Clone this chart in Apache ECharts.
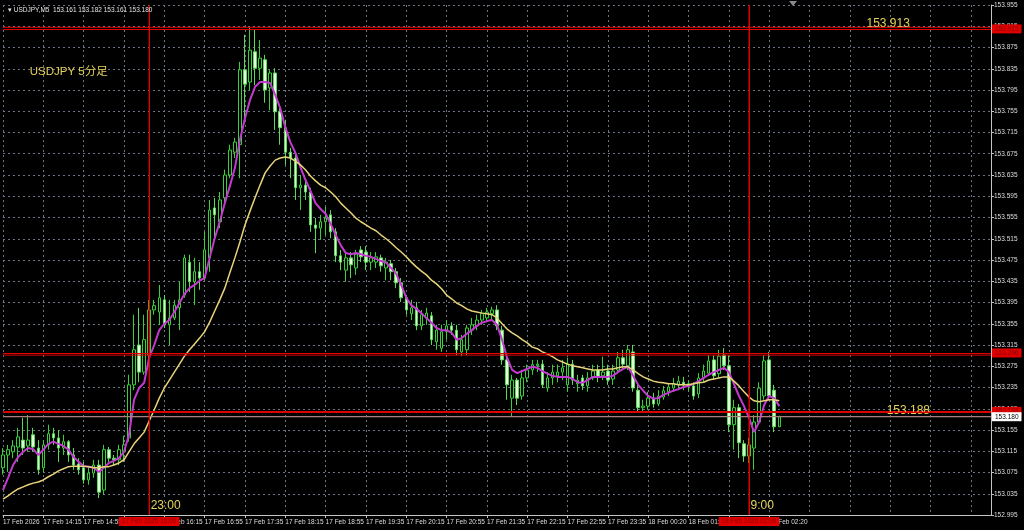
<!DOCTYPE html>
<html>
<head>
<meta charset="utf-8">
<script src="https://cdn.jsdelivr.net/npm/echarts@6/dist/echarts.min.js"></script>
<style>
html,body{margin:0;padding:0;background:#000;}
#c{width:1024px;height:530px;}
</style>
</head>
<body>
<div id="c"></div>
<script>
// ---- data (USDJPY M5) ----
const symbolName = 'USDJPY,M5';
const slotCount = 197; // bar slots on the time axis (155 bars + chart shift)
const tickLabels = ['17 Feb 2026','17 Feb 14:15','17 Feb 14:55','17 Feb 15:35','17 Feb 16:15','17 Feb 16:55','17 Feb 17:35','17 Feb 18:15','17 Feb 18:55','17 Feb 19:35','17 Feb 20:15','17 Feb 20:55','17 Feb 21:35','17 Feb 22:15','17 Feb 22:55','17 Feb 23:35','18 Feb 00:20','18 Feb 01:00','18 Feb 01:40','18 Feb 02:20'];
const tickEvery = 8;

const opens = [
153.084,153.108,153.114,153.123,153.136,153.125,153.146,153.121,153.084,153.127,
153.148,153.140,153.121,153.133,153.108,153.091,153.084,153.061,153.074,153.089,
153.042,153.118,153.102,153.099,153.114,153.140,153.240,153.315,153.264,153.296,
153.381,153.377,153.400,153.353,153.366,153.385,153.409,153.471,153.434,153.453,
153.441,153.479,153.573,153.547,153.592,153.635,153.678,153.692,153.833,153.810,
153.867,153.836,153.852,153.799,153.827,153.754,153.724,153.678,153.667,153.611,
153.616,153.603,153.541,153.535,153.547,153.560,153.528,153.483,153.456,153.479,
153.460,153.494,153.490,153.471,153.471,153.479,153.460,153.468,153.453,153.432,
153.404,153.374,153.385,153.351,153.366,153.370,153.321,153.309,153.340,153.351,
153.343,153.302,153.306,153.343,153.351,153.362,153.366,153.374,153.381,153.343,
153.287,153.215,153.249,153.219,153.253,153.268,153.276,153.279,153.234,153.253,
153.257,153.264,153.240,153.279,153.242,153.253,153.238,153.253,153.268,153.257,
153.266,153.251,153.268,153.291,153.276,153.302,153.230,153.197,153.200,153.215,
153.204,153.217,153.227,153.234,153.240,153.245,153.238,153.238,153.223,153.253,
153.262,153.287,153.261,153.296,153.276,153.165,153.197,153.129,153.106,153.121,
153.170,153.219,153.287,153.230,153.161];
const highs = [
153.121,153.127,153.136,153.159,153.178,153.183,153.159,153.136,153.136,153.165,
153.159,153.155,153.146,153.136,153.121,153.102,153.095,153.084,153.099,153.099,
153.127,153.123,153.108,153.127,153.144,153.259,153.372,153.385,153.372,153.400,
153.400,153.428,153.409,153.400,153.400,153.434,153.485,153.485,153.479,153.471,
153.528,153.588,153.592,153.603,153.645,153.692,153.705,153.848,153.899,153.913,
153.908,153.889,153.861,153.833,153.836,153.761,153.739,153.686,153.673,153.635,
153.626,153.611,153.554,153.560,153.575,153.569,153.535,153.494,153.490,153.490,
153.494,153.501,153.501,153.490,153.490,153.485,153.479,153.475,153.460,153.441,
153.409,153.400,153.396,153.381,153.385,153.377,153.353,153.353,153.362,153.358,
153.353,153.334,153.353,153.366,153.372,153.381,153.385,153.387,153.390,153.351,
153.291,153.259,153.253,153.268,153.278,153.287,153.287,153.287,153.264,153.278,
153.278,153.287,153.291,153.287,153.259,153.259,153.264,153.278,153.278,153.293,
153.278,153.278,153.302,153.306,153.315,153.315,153.240,153.212,153.227,153.225,
153.230,153.238,153.244,153.253,153.257,153.255,153.249,153.245,153.262,153.278,
153.296,153.296,153.306,153.309,153.296,153.212,153.204,153.136,153.140,153.183,
153.245,153.296,153.302,153.240,153.182];
const lows = [
153.071,153.076,153.102,153.095,153.108,153.114,153.114,153.071,153.076,153.118,
153.127,153.095,153.108,153.095,153.080,153.071,153.054,153.052,153.065,153.027,
153.033,153.095,153.089,153.089,153.095,153.133,153.230,153.245,153.259,153.287,
153.372,153.353,153.347,153.315,153.362,153.343,153.404,153.415,153.390,153.419,
153.437,153.453,153.513,153.535,153.579,153.629,153.667,153.629,153.742,153.795,
153.804,153.814,153.771,153.757,153.720,153.692,153.654,153.629,153.588,153.569,
153.588,153.528,153.488,153.513,153.522,153.516,153.471,153.456,153.434,153.441,
153.447,153.471,153.456,153.456,153.460,153.453,153.437,153.437,153.422,153.396,
153.372,153.362,153.343,153.343,153.353,153.315,153.306,153.302,153.325,153.334,
153.296,153.294,153.296,153.334,153.343,153.353,153.358,153.362,153.343,153.278,
153.212,153.180,153.202,153.212,153.245,153.259,153.264,153.234,153.227,153.240,
153.245,153.249,153.227,153.240,153.227,153.230,153.227,153.249,153.245,153.249,
153.240,153.240,153.264,153.272,153.268,153.227,153.189,153.189,153.193,153.197,
153.200,153.212,153.219,153.227,153.230,153.230,153.227,153.212,153.215,153.245,
153.257,153.249,153.253,153.268,153.151,153.118,153.102,153.095,153.093,153.080,
153.165,153.212,153.212,153.151,153.161];
const closes = [
153.108,153.118,153.125,153.142,153.121,153.136,153.123,153.080,153.127,153.148,
153.140,153.121,153.133,153.108,153.089,153.080,153.061,153.074,153.089,153.038,
153.118,153.102,153.099,153.118,153.127,153.240,153.306,153.264,153.325,153.381,
153.389,153.404,153.353,153.366,153.390,153.400,153.479,153.434,153.453,153.441,
153.494,153.569,153.560,153.588,153.635,153.682,153.697,153.833,153.806,153.870,
153.836,153.855,153.795,153.827,153.754,153.724,153.678,153.667,153.611,153.616,
153.603,153.541,153.535,153.547,153.554,153.528,153.483,153.471,153.479,153.466,
153.486,153.481,153.471,153.479,153.481,153.464,153.471,153.453,153.432,153.404,
153.381,153.385,153.351,153.372,153.375,153.325,153.343,153.340,153.351,153.343,
153.306,153.325,153.347,153.353,153.362,153.375,153.377,153.381,153.351,153.287,
153.240,153.249,153.215,153.253,153.268,153.278,153.279,153.240,153.253,153.264,
153.264,153.272,153.279,153.249,153.249,153.238,153.253,153.266,153.255,153.264,
153.249,153.266,153.291,153.279,153.306,153.234,153.197,153.200,153.215,153.204,
153.219,153.229,153.236,153.242,153.247,153.240,153.242,153.219,153.253,153.266,
153.285,153.257,153.294,153.276,153.165,153.197,153.131,153.106,153.127,153.170,
153.234,153.285,153.219,153.161,153.180];
const maFast = [
153.042,153.065,153.089,153.104,153.114,153.121,153.119,153.108,153.118,153.129,
153.133,153.129,153.125,153.118,153.104,153.095,153.087,153.086,153.084,153.076,
153.084,153.093,153.097,153.102,153.114,153.146,153.212,153.234,153.244,153.291,
153.315,153.343,153.355,153.362,153.377,153.394,153.411,153.422,153.428,153.436,
153.441,153.479,153.516,153.547,153.582,153.614,153.648,153.701,153.742,153.776,
153.801,153.810,153.810,153.808,153.786,153.761,153.725,153.697,153.677,153.650,
153.626,153.605,153.582,153.571,153.562,153.543,153.522,153.503,153.488,153.486,
153.488,153.486,153.483,153.481,153.477,153.473,153.470,153.460,153.449,153.428,
153.404,153.390,153.383,153.375,153.366,153.357,153.347,153.343,153.343,153.338,
153.325,153.328,153.336,153.343,153.351,153.357,153.360,153.362,153.353,153.325,
153.291,153.268,153.262,153.266,153.270,153.274,153.272,153.266,153.261,153.257,
153.255,153.255,153.255,153.251,153.245,153.244,153.249,153.255,153.255,153.255,
153.255,153.257,153.264,153.270,153.274,153.257,153.240,153.229,153.219,153.214,
153.215,153.221,153.225,153.229,153.232,153.236,153.238,153.242,153.247,153.253,
153.259,153.264,153.268,153.272,153.264,153.242,153.219,153.200,153.178,153.151,
153.170,153.202,153.219,153.215,153.200];
const maSlow = [
153.025,153.031,153.038,153.044,153.048,153.052,153.055,153.057,153.061,153.067,
153.072,153.078,153.082,153.086,153.087,153.087,153.087,153.086,153.084,153.084,
153.086,153.086,153.089,153.093,153.099,153.114,153.129,153.140,153.151,153.172,
153.193,153.215,153.234,153.249,153.264,153.279,153.294,153.306,153.317,153.328,
153.340,153.358,153.379,153.400,153.422,153.451,153.479,153.509,153.541,153.567,
153.592,153.616,153.639,153.652,153.663,153.667,153.669,153.667,153.661,153.654,
153.645,153.633,153.624,153.616,153.611,153.603,153.594,153.582,153.573,153.564,
153.554,153.547,153.541,153.535,153.530,153.522,153.515,153.507,153.498,153.490,
153.481,153.471,153.462,153.454,153.447,153.437,153.430,153.421,153.409,153.402,
153.394,153.389,153.383,153.379,153.377,153.375,153.374,153.372,153.366,153.355,
153.345,153.338,153.332,153.325,153.319,153.311,153.308,153.302,153.298,153.293,
153.287,153.283,153.279,153.276,153.274,153.272,153.270,153.268,153.268,153.268,
153.270,153.270,153.272,153.274,153.274,153.268,153.261,153.255,153.251,153.247,
153.245,153.244,153.242,153.242,153.240,153.240,153.240,153.242,153.244,153.245,
153.249,153.251,153.253,153.255,153.255,153.247,153.238,153.227,153.217,153.210,
153.208,153.210,153.212,153.212,153.210];

const yTicksMin = 152.995, yTicksMax = 153.955, yTickStep = 0.04;
const hLevels = [153.913, 153.296, 153.188];
const bidPrice = 153.180;
const vLineIdx = [29, 148];
const vLineAxisText = ['17 Feb 2026 16:00', '18 Feb 2026 02:00'];
const noteTexts = ['USDJPY 5分足', '153.913', '153.188', '23:00', '9:00'];
const noteIdx = [5, 171, 175, 29, 148];
const notePrice = [153.829, 153.919, 153.192, 153.012, 153.012];

// ---- build ----
const categories = Array.from({length: slotCount}, (_, i) => String(i));
const candleData = opens.map((o, i) => [o, closes[i], lows[i], highs[i]]);
const last = opens.length - 1;
const headerText = symbolName + '  ' + [opens[last], highs[last], lows[last], closes[last]].map(v => v.toFixed(3)).join(' ');

const gridColor = '#6a7482';
const axisColor = '#c4c4c4';
const labelColor = '#dedede';
const smallFont = 'Liberation Sans';
const noteColor = '#e6d35c';
const lineRed = '#e00000';
const isTick = i => i % tickEvery === 0 && i / tickEvery < tickLabels.length;

const redBox = {
  show: true, backgroundColor: '#e00000', color: '#8a0000',
  fontSize: 6.5, fontFamily: smallFont, padding: [1, 3, 1, 3]
};

// straight guide lines drawn as plain line series through the axes
function guideSeries(points, color, z) {
  return {
    type: 'line', data: points, showSymbol: false, silent: true, animation: false,
    lineStyle: {color: color, width: 1, type: 'solid'}, z: z
  };
}
const firstCat = categories[0], lastCat = categories[categories.length - 1];
const guides = [
  ...hLevels.map(v => guideSeries([[firstCat, v], [lastCat, v]], lineRed, 5)),
  guideSeries([[firstCat, bidPrice], [lastCat, bidPrice]], '#a0a0a0', 5),
  ...vLineIdx.map(idx => guideSeries([[categories[idx], yTicksMin], [categories[idx], yTicksMax]], lineRed, 5))
];

const chart = echarts.init(document.getElementById('c'), null, {renderer: 'canvas'});
chart.setOption({
  backgroundColor: '#000',
  animation: false,
  title: {
    text: '\u25BE ' + headerText, left: 3, top: 2,
    textStyle: {fontSize: 6.5, color: '#e4e4e4', fontWeight: 'normal', fontFamily: smallFont}
  },
  graphic: [{
    type: 'polygon', shape: {points: [[789, 1], [797, 1], [793, 6]]},
    style: {fill: '#8a8a8a'}, silent: true
  }],
  grid: {left: 3, right: 33, top: 5, bottom: 15},
  xAxis: {
    type: 'category', data: categories, boundaryGap: false,
    axisLine: {show: true, lineStyle: {color: axisColor, width: 1}},
    axisTick: {show: true, interval: isTick, length: 3, lineStyle: {color: axisColor}},
    axisLabel: {
      interval: isTick, align: 'left', margin: 4,
      formatter: (v, i) => tickLabels[i / tickEvery] || '',
      fontSize: 6.5, color: labelColor, fontFamily: smallFont
    },
    splitLine: {show: true, interval: i => i % tickEvery === 0, lineStyle: {color: gridColor, type: [2, 3], width: 1}}
  },
  yAxis: {
    type: 'value', position: 'right', min: yTicksMin, max: yTicksMax, interval: yTickStep,
    axisLine: {show: true, lineStyle: {color: axisColor, width: 1}},
    axisTick: {show: true, length: 3, lineStyle: {color: axisColor}},
    axisLabel: {
      formatter: v => v.toFixed(3), margin: 3,
      fontSize: 6.5, color: labelColor, fontFamily: smallFont
    },
    splitLine: {show: true, lineStyle: {color: gridColor, type: [2, 3], width: 1}}
  },
  series: [
    {
      type: 'candlestick', name: 'USDJPY', data: candleData, barWidth: 3,
      itemStyle: {color: '#000000', color0: '#dcffd6', borderColor: '#38d038', borderColor0: '#58dc58', borderWidth: 1},
      markLine: {
        symbol: ['none', 'none'], silent: true, animation: false,
        lineStyle: {color: lineRed, width: 1, type: 'solid'},
        data: [
          ...hLevels.map(v => ({
            yAxis: v,
            label: Object.assign({}, redBox, {position: 'end', distance: 1, formatter: v.toFixed(3)})
          })),
          {
            yAxis: bidPrice,
            label: {show: true, position: 'end', distance: 1, formatter: bidPrice.toFixed(3),
              backgroundColor: '#ffffff', color: '#000000', fontSize: 6.5, fontFamily: smallFont, padding: [1, 3, 1, 3]}
          },
          ...vLineIdx.map((idx, k) => ({
            xAxis: categories[idx],
            label: Object.assign({}, redBox, {position: 'start', distance: 2, formatter: vLineAxisText[k]})
          }))
        ]
      }
    },
    {
      type: 'line', name: 'MA fast', data: maFast, showSymbol: false, smooth: false,
      lineStyle: {color: '#c43ad0', width: 2}, z: 4
    },
    {
      type: 'line', name: 'MA slow', data: maSlow, showSymbol: false, smooth: false,
      lineStyle: {color: '#e8d37a', width: 1.5}, z: 4,
      markPoint: {
        symbol: 'rect', symbolSize: 1, silent: true, animation: false,
        itemStyle: {color: 'rgba(0,0,0,0)'},
        data: noteTexts.map((t, k) => ({
          coord: [categories[noteIdx[k]], notePrice[k]],
          label: {show: true, position: 'right', distance: 1, formatter: t,
            color: noteColor, fontSize: k === 0 ? 11.5 : 12,
            fontFamily: 'Liberation Sans, Noto Sans CJK JP'}
        }))
      }
    },
    ...guides
  ]
});
</script>
</body>
</html>
